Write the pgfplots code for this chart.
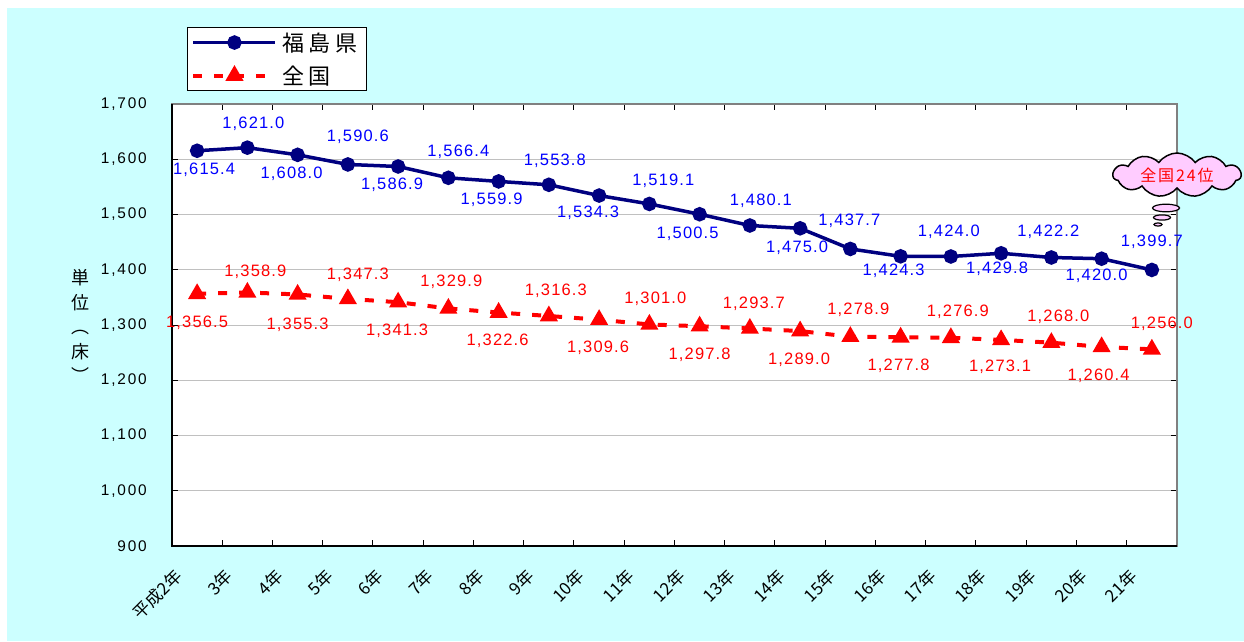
\documentclass[border=0pt]{standalone}
\usepackage{fontspec}
\setmainfont{Liberation Sans}
\newfontfamily\jp{Noto Sans CJK JP}
\newfontfamily\jpsp[LetterSpace=20]{Noto Sans CJK JP}
\newfontfamily\cloudf[LetterSpace=12]{Noto Sans CJK JP}
\newfontfamily\lbl[LetterSpace=7]{Liberation Sans}
\newfontfamily\tickf[LetterSpace=12]{Liberation Sans}
\usepackage{pgfplots}
\pgfplotsset{compat=1.18}
\usepackage{pgfplotstable}
\usetikzlibrary{shapes.symbols}

\definecolor{bgcyan}{RGB}{204,255,255}
\definecolor{navyc}{RGB}{0,0,128}
\definecolor{lblblue}{RGB}{0,0,255}
\definecolor{pinkc}{RGB}{255,204,255}
\definecolor{gridgray}{RGB}{192,192,192}
\definecolor{bordergray}{RGB}{128,128,128}

\pgfplotstableread{
x y dx dy
0 1615.4 7 -19
1 1621.0 6 24
2 1608.0 -6 -19
3 1590.6 10 28
4 1586.9 -6 -18
5 1566.4 10 26
6 1559.9 -7 -18
7 1553.8 6 24
8 1534.3 -11 -17
9 1519.1 14 23
10 1500.5 -12 -20
11 1480.1 11 25
12 1475.0 -3 -19
13 1437.7 -1 28
14 1424.3 -7 -14
15 1424.0 -2 25
16 1429.8 -4 -16
17 1422.2 -3 26
18 1420.0 -5 -17
19 1399.7 0 28
}\fuku

\pgfplotstableread{
x y dx dy
0 1356.5 0 -29
1 1358.9 8 21
2 1355.3 0 -30
3 1347.3 10 24
4 1341.3 -1 -29
5 1329.9 3 27
6 1322.6 -1 -28
7 1316.3 7 25
8 1309.6 -1 -28
9 1301.0 6 26
10 1297.8 0 -29
11 1293.7 4 25
12 1289.0 -1 -29
13 1278.9 8 27
14 1277.8 -2 -29
15 1276.9 7 26
16 1273.1 -1 -27
17 1268.0 7 26
18 1260.4 -3 -29
19 1256.0 10 26
}\zenkoku

\begin{document}
\begin{tikzpicture}[x=1pt,y=1pt]
\fill[white] (0,0) rectangle (1244,641);
\fill[bgcyan] (7,0) rectangle (1244,633);
\node[font=\jp\fontsize{18}{24.5}\selectfont, align=center, inner sep=0pt] at (80,315) {単\\位\\︵\\床\\︶};
\begin{axis}[
  at={(172pt,95pt)}, anchor=south west,
  scale only axis, width=1005pt, height=442pt,
  clip=false,
  axis background/.style={fill=white},
  axis line style={draw=bordergray, line width=1.5pt},
  xmin=-0.5, xmax=19.5,
  ymin=900, ymax=1700,
  ytick={900,1000,...,1700},
  ymajorgrids, grid style={gridgray, line width=1pt},
  xtick={-0.5,0.5,...,19.5},
  x tick label as interval,
  xticklabels={平成2年,3年,4年,5年,6年,7年,8年,9年,10年,11年,12年,13年,14年,15年,16年,17年,18年,19年,20年,21年},
  xticklabel style={font=\jp\fontsize{17}{19}\selectfont, inner sep=0pt, xshift=-18pt, yshift=-27pt, rotate=45, anchor=east},
  major tick length=6pt,
  tick style={black, line width=1pt},
  tick align=inside,
  /pgf/number format/assume math mode=true,
  yticklabel style={/pgf/number format/1000 sep={,}, font=\tickf\fontsize{15.4}{18}\selectfont, anchor=east, inner sep=0pt, xshift=-25pt},
  legend style={at={(rel axis cs:0.0149,1.1742)}, anchor=north west, draw=black, line width=1pt, fill=white,
    inner xsep=4pt, inner ysep=5pt, row sep=13pt, font=\jpsp\fontsize{22}{26}\selectfont,
    nodes={inner xsep=5pt, inner ysep=0pt}},
  legend cell align=left,
  legend image code/.code={\draw[mark repeat=2, mark phase=2, #1] plot coordinates {(0pt,0pt) (41pt,0pt) (82pt,0pt)};},
]
\addplot[navyc, line width=3.5pt, mark=*, mark size=5.5pt, mark options={solid, fill=navyc},
  point meta=y,
  visualization depends on={\thisrow{dx} \as \dx},
  visualization depends on={\thisrow{dy} \as \dy},
  nodes near coords={\pgfmathprintnumber[fixed, fixed zerofill, precision=1, 1000 sep={,}]{\pgfplotspointmeta}},
  nodes near coords style={font=\lbl\fontsize{16.5}{18}\selectfont, text=lblblue, anchor=center, inner sep=0pt, xshift=\dx pt, yshift=\dy pt},
] table[x=x, y=y] {\fuku};
\addlegendentry{福島県}
\addplot[red, line width=4pt, dash pattern=on 9pt off 12pt, mark=triangle*, mark size=6.5pt, mark options={solid, fill=red},
  point meta=y,
  visualization depends on={\thisrow{dx} \as \dx},
  visualization depends on={\thisrow{dy} \as \dy},
  nodes near coords={\pgfmathprintnumber[fixed, fixed zerofill, precision=1, 1000 sep={,}]{\pgfplotspointmeta}},
  nodes near coords style={font=\lbl\fontsize{16.5}{18}\selectfont, text=red, anchor=center, inner sep=0pt, xshift=\dx pt, yshift=\dy pt},
] table[x=x, y=y] {\zenkoku};
\addlegendentry{全国}
\draw[black, line width=2pt] (rel axis cs:0,1) -- (rel axis cs:0,0) -- (rel axis cs:1,0);
\end{axis}
\node[cloud, cloud puffs=11, cloud puff arc=110, cloud ignores aspect, draw=black, line width=1.5pt, fill=pinkc, text=red,
  font=\cloudf\fontsize{16}{18}\selectfont, minimum width=128pt, minimum height=44pt, inner sep=0pt] at (1177,466) {全国24位};
\draw[black, line width=1.2pt, fill=pinkc] (1166,433) ellipse (13.5 and 3.8);
\draw[black, line width=1.2pt, fill=pinkc] (1162,423.5) ellipse (8.5 and 2.6);
\draw[black, line width=1.2pt, fill=pinkc] (1158,416.5) ellipse (4 and 1.6);
\pgfresetboundingbox
\path (0,0) rectangle (1244,641);
\end{tikzpicture}
\end{document}
